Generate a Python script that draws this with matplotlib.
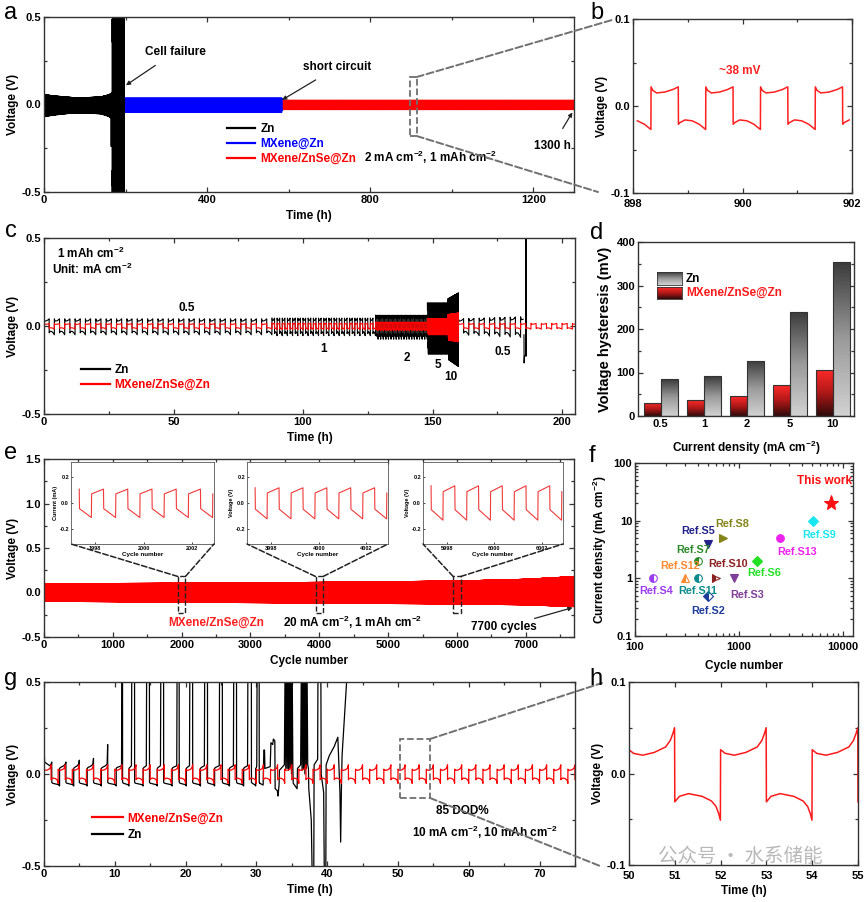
import numpy as np
import matplotlib
matplotlib.use("Agg")
import matplotlib.pyplot as plt
from matplotlib.lines import Line2D
from matplotlib.patches import Rectangle, ConnectionPatch
from matplotlib.colors import LinearSegmentedColormap
from matplotlib.ticker import MultipleLocator, FixedLocator, LogLocator, NullFormatter

plt.rcParams['font.family'] = ['Liberation Sans', 'DejaVu Sans']
plt.rcParams['font.weight'] = 'bold'
plt.rcParams['axes.labelweight'] = 'bold'
plt.rcParams['mathtext.fontset'] = 'custom'
plt.rcParams['mathtext.rm'] = 'Liberation Sans:bold'
plt.rcParams['mathtext.it'] = 'Liberation Sans:bold'
plt.rcParams['mathtext.bf'] = 'Liberation Sans:bold'
plt.rcParams['mathtext.default'] = 'bf'
plt.rcParams['axes.unicode_minus'] = False

# ======================= DATA =======================
# (b) one plating/stripping cycle of MXene/ZnSe@Zn, 2 mA cm-2 (phase in cycles, volt in V)
b_phase = [0.0, 0.03, 0.10, 0.25, 0.40, 0.497, 0.50, 0.53, 0.62, 0.75, 0.88, 0.997]
b_volt = [0.022, 0.018, 0.015, 0.016, 0.019, 0.022, -0.021, -0.019, -0.016, -0.017, -0.021, -0.027]
b_first_up = 898.33
b_period = 1.0

# (a) long-term cycling, 2 mA cm-2 / 1 mAh cm-2 (1 h per cycle)
a_zn_env_t = [0, 30, 70, 110, 140, 160, 167]
a_zn_env_amp = [0.07, 0.06, 0.05, 0.05, 0.055, 0.07, 0.085]
a_zn_fail_t = [167, 197]
a_zn_fail_amp = 0.6
a_zn_drop_t = [164.5, 164.8, 165.1]
a_zn_drop_v = [-0.05, -0.24, -0.05]
a_mx_end = 584
a_mx_amp = 0.045
a_mxzs_end = 1300
a_mxzs_amp = 0.030

# (c) rate performance, 1 mAh cm-2
c_rate = [0.5, 1, 2, 5, 10, 0.5]
c_t_start = [0, 88, 128, 148, 156, 160]
c_t_end = [88, 128, 148, 156, 160, 205]
c_zn_amp_start = [0.05, 0.055, 0.075, 0.16, 0.19, 0.05]
c_zn_amp_end = [0.05, 0.055, 0.075, 0.16, 0.23, 0.065]
c_zn_stop = 185.3
c_zn_fail_t = [185.3, 185.35, 185.5, 186.0, 186.05, 186.15, 186.2]
c_zn_fail_v = [-0.05, -0.21, -0.17, -0.17, 0.6, 0.6, -0.17]
c_mx_amp_start = [0.017, 0.02, 0.027, 0.05, 0.08, 0.018]
c_mx_amp_end = [0.017, 0.02, 0.027, 0.05, 0.09, 0.018]

# (d) voltage hysteresis
d_current = ['0.5', '1', '2', '5', '10']
d_zn = [84, 91, 127, 240, 355]
d_mxzs = [31, 36, 45, 71, 106]

# (e) 20 mA cm-2, 1 mAh cm-2
e_phase = [0.0, 0.49, 0.50, 0.99]
e_volt = [0.058, 0.088, -0.035, -0.090]
e_first_up = 0.85
e_cycles = 7700
e_env_x = [0, 2000, 4000, 6000, 7000, 7700]
e_env_top = [0.10, 0.105, 0.115, 0.13, 0.15, 0.18]
e_env_bot = [-0.10, -0.11, -0.12, -0.13, -0.14, -0.16]
e_inset_center = [2000, 4000, 6000]
e_inset_ticks = [[1998, 2000, 2002], [3998, 4000, 4002], [5998, 6000, 6002]]
e_inset_ylabel = ['Current (mA)', 'Voltage (V)', 'Voltage (V)']

# (f) comparison with literature
f_names = ['Ref.S4', 'Ref.S12', 'Ref.S11', 'Ref.S7', 'Ref.S5', 'Ref.S2', 'Ref.S10',
           'Ref.S8', 'Ref.S3', 'Ref.S6', 'Ref.S13', 'Ref.S9', 'This work']
f_cycles = [150, 300, 400, 400, 500, 500, 600, 700, 900, 1500, 2500, 5200, 7700]
f_current = [1, 1, 1, 2, 4, 0.5, 1, 5, 1, 2, 5, 10, 20]
f_colors = ['#9b3cf0', '#ff8a30', '#0a8a8a', '#2a8a2a', '#23238a', '#1e3c9a', '#8b2020',
            '#84841a', '#7f3f98', '#22e022', '#ee22ee', '#18e6f0', '#ff1010']
f_markers = ['o', '^', 'o', 'o', 'v', 'D', '>', '>', 'v', 'D', 'o', 'D', '*']
f_fill = ['left', 'left', 'left', 'left', 'full', 'left', 'left', 'full', 'full', 'full', 'full', 'full', 'full']
f_label_off = [(2, -9), (-3, 9), (0, -9), (-3, 8), (-7, 9), (0, -11), (9, 10),
               (7, 10), (9, -12), (5, -9), (12, -10), (4, -10), (-5, 16)]

# (g, h) 10 mA cm-2, 10 mAh cm-2, 85 % DOD: one cycle of MXene/ZnSe@Zn (phase in h, 2 h cycle)
gh_phase = [0.0, 0.1, 0.3, 0.55, 0.8, 0.9, 0.96, 0.995, 1.0, 1.1, 1.3, 1.6, 1.8, 1.9, 1.96, 1.995]
gh_volt = [0.026, 0.022, 0.020, 0.023, 0.029, 0.036, 0.044, 0.050,
           -0.031, -0.025, -0.022, -0.025, -0.030, -0.036, -0.044, -0.051]
gh_period = 2.0
# bare Zn in (g): start / end of each stripping half-cycle and its terminal voltage
zn_g_up = [0.0, 2.2, 4.2, 6.1, 8.1, 10.2, 12.0, 14.0, 16.0, 18.1, 20.1, 22.1, 24.1, 26.2, 28.2, 29.9]
zn_g_end = [1.1, 3.1, 5.0, 7.0, 9.0, 11.1, 12.8, 14.9, 16.9, 19.1, 21.0, 23.1, 25.2, 27.2, 29.3, 30.4]
zn_g_peak = [0.065, 0.065, 0.075, 0.085, 0.16, 0.6, 0.6, 0.6, 0.6, 0.6, 0.6, 0.6, 0.6, 0.6, 0.6, 0.6]
zn_g_spike_w = [0, 0, 0, 0, 0, 0.1, 0.4, 0.4, 0.4, 0.3, 0.4, 0.4, 0.4, 0.4, 0.5, 0.3]
zn_g_tail_t = [30.45, 30.95, 31.0, 31.05, 31.15, 31.2, 31.95, 32.05, 32.3, 32.4, 32.6, 32.65, 32.95,
               33.05, 33.2, 33.25, 33.95,
               34.05, 34.15, 34.25, 34.35, 34.45, 34.55, 34.65, 34.75, 34.85, 34.95, 35.05, 35.15,
               35.2, 35.75, 35.8, 36.25,
               36.35, 36.45, 36.55, 36.65, 36.75, 36.85, 36.95, 37.05, 37.15, 37.25,
               37.35, 37.4, 37.75, 37.9, 38.1, 38.15, 38.65, 38.7, 39.1, 39.15, 39.5, 39.6,
               39.8, 39.85, 40.3, 41.0, 41.5, 41.6, 41.8, 41.9, 42.0, 42.1, 42.5, 42.9]
zn_g_tail_v = [-0.05, -0.06, 0.02, 0.13, 0.13, 0.03, 0.04, 0.17, 0.16, 0.19, 0.18, -0.08, -0.09,
               -0.12, -0.06, 0.02, 0.05,
               0.6, 0.03, 0.6, 0.03, 0.6, 0.02, 0.6, 0.03, 0.6, 0.0, 0.6, 0.03,
               -0.05, -0.08, 0.03, 0.05,
               0.6, 0.02, 0.6, 0.03, 0.6, 0.0, 0.6, 0.03, 0.6, 0.05,
               0.03, -0.08, -0.25, -0.6, -0.6, 0.05, 0.08, 0.6, 0.6, 0.0, -0.1, -0.6,
               -0.6, 0.05, 0.1, 0.15, 0.2, 0.1, -0.1, -0.37, -0.1, 0.1, 0.35, 0.6]


# ======================= HELPERS =======================
def tile(phase, volt, t0, t1, period, first_up):
    """repeat one read-off cycle (phase given as fraction of the period)"""
    phase = np.asarray(phase, float)
    volt = np.asarray(volt, float)
    k0 = np.floor((t0 - first_up) / period) - 1
    k1 = np.ceil((t1 - first_up) / period) + 1
    ks = np.arange(k0, k1 + 1)
    t = first_up + (ks[:, None] + phase[None, :]) * period
    v = np.broadcast_to(volt, t.shape)
    t = t.ravel()
    v = v.ravel()
    m = (t >= t0) & (t <= t1)
    return t[m], v[m].copy()


b_norm = np.asarray(b_volt) / np.max(np.abs(b_volt))
gh_frac = np.asarray(gh_phase) / gh_period

W, H = 865, 902
fig = plt.figure(figsize=(W / 100, H / 100), dpi=100)


def add_ax(l, t, r, b):
    return fig.add_axes([l / W, 1 - b / H, (r - l) / W, (b - t) / H])


def style(ax):
    for s in ax.spines.values():
        s.set_linewidth(1.0)
        s.set_color('#333333')
    ax.tick_params(which='both', direction='in', top=True, right=True, labelsize=8,
                   width=0.9, color='#333333', pad=2)
    ax.tick_params(which='major', length=3.5)
    ax.tick_params(which='minor', length=2)


def fig_pt(x, y):
    return (x / W, 1 - y / H)


GREY = '#707070'
ARROW = dict(arrowstyle='-|>', color='#222222', lw=0.9, mutation_scale=6, shrinkB=0)

# ======================= (a) =======================
ax = add_ax(44, 17, 574, 192)
t, v = tile(b_phase, b_norm, 0, a_mxzs_end, b_period, 0.33)
ax.plot(t, v * a_mxzs_amp, color='#ff0000', lw=0.6)
t, v = tile(b_phase, b_norm, 0, a_mx_end, b_period, 0.33)
ax.plot(t, v * a_mx_amp, color='#0000ff', lw=0.6)
t, v = tile(b_phase, b_norm, 0, a_zn_fail_t[0], b_period, 0.33)
ax.plot(t, v * np.interp(t, a_zn_env_t, a_zn_env_amp), color='black', lw=0.6)
t, v = tile(b_phase, b_norm, a_zn_fail_t[0], a_zn_fail_t[1], b_period, 0.33)
ax.plot(t, v * a_zn_fail_amp, color='black', lw=0.8)
ax.plot(a_zn_drop_t, a_zn_drop_v, color='black', lw=0.8)
ax.set_xlim(0, 1300)
ax.set_ylim(-0.5, 0.5)
ax.xaxis.set_major_locator(MultipleLocator(400))
ax.xaxis.set_minor_locator(MultipleLocator(200))
ax.yaxis.set_major_locator(MultipleLocator(0.5))
ax.yaxis.set_minor_locator(MultipleLocator(0.25))
ax.yaxis.set_major_formatter(lambda x, p: f'{x:.1f}')
style(ax)
ax.set_xlabel('Time (h)', fontsize=8.5, labelpad=4)
ax.set_ylabel('Voltage (V)', fontsize=8.5, labelpad=2)
hs = [Line2D([], [], color='black', lw=1.6), Line2D([], [], color='#0000ff', lw=1.6),
      Line2D([], [], color='#ff0000', lw=1.6)]
leg = ax.legend(hs, ['Zn', 'MXene@Zn', 'MXene/ZnSe@Zn'], loc='upper left',
                bbox_to_anchor=(0.33, 0.44), frameon=False, fontsize=8.5, handlelength=2.4,
                handletextpad=0.4, labelspacing=0.25, borderpad=0.2)
for txt, c in zip(leg.get_texts(), ['black', '#0000ff', '#ff0000']):
    txt.set_color(c)
ax.text(947, -0.30, '2 mA cm$^{-2}$, 1 mAh cm$^{-2}$', fontsize=8.5, ha='center', va='center')
ax.annotate('Cell failure', xy=(201, 0.11), xytext=(322, 0.30), fontsize=8.5, ha='center', va='center',
            arrowprops=dict(ARROW, shrinkA=6))
ax.annotate('short circuit', xy=(584, 0.026), xytext=(720, 0.215), fontsize=8.5, ha='center', va='center',
            arrowprops=dict(ARROW, shrinkA=6))
ax.annotate('1300 h', xy=(1296, -0.045), xytext=(1247, -0.235), fontsize=8.5, ha='center', va='center',
            arrowprops=dict(ARROW, shrinkA=7))
ax.add_patch(Rectangle((898, -0.18), 16, 0.337, fill=False, ls='--', ec=GREY, lw=1.3, zorder=5))
ax_a = ax

# ======================= (b) =======================
ax = add_ax(633, 19, 852, 193)
t, v = tile(b_phase, b_volt, 898, 902, b_period, b_first_up)
ax.plot(t, v, color='#ff2020', lw=1.1)
ax.set_xlim(898, 902)
ax.set_ylim(-0.1, 0.1)
ax.xaxis.set_major_locator(MultipleLocator(2))
ax.xaxis.set_minor_locator(MultipleLocator(1))
ax.yaxis.set_major_locator(MultipleLocator(0.1))
ax.yaxis.set_minor_locator(MultipleLocator(0.05))
ax.yaxis.set_major_formatter(lambda x, p: f'{x:.1f}')
style(ax)
ax.tick_params(axis='x', pad=4)
ax.set_ylabel('Voltage (V)', fontsize=8.5, labelpad=2)
ax.text(899.95, 0.04, '~38 mV', color='#ff2020', fontsize=8.5, ha='center', va='center')
for ya, xb, yb in [(0.157, 612, 20), (-0.18, 598, 192)]:
    cp = ConnectionPatch(xyA=(914, ya), coordsA=ax_a.transData, xyB=fig_pt(xb, yb),
                         coordsB='figure fraction', ls='--', color=GREY, lw=1.4)
    fig.add_artist(cp)

# ======================= (c) =======================
ax = add_ax(44, 238, 575, 414)
for i in range(len(c_rate)):
    per = 2.0 / c_rate[i]
    t0, t1 = c_t_start[i], c_t_end[i]
    tz1 = min(t1, c_zn_stop)
    t, v = tile(b_phase, b_norm, t0, tz1, per, t0)
    amp = np.interp(t, [t0, tz1], [c_zn_amp_start[i], c_zn_amp_end[i]])
    ax.plot(t, v * amp, color='black', lw=0.8)
ax.plot(c_zn_fail_t, c_zn_fail_v, color='black', lw=0.8)
for i in range(len(c_rate)):
    per = 2.0 / c_rate[i]
    t0, t1 = c_t_start[i], c_t_end[i]
    t, v = tile(b_phase, b_norm, t0, t1, per, t0)
    amp = np.interp(t, [t0, t1], [c_mx_amp_start[i], c_mx_amp_end[i]])
    ax.plot(t, v * amp, color='#ff0000', lw=0.8)
ax.set_xlim(0, 205)
ax.set_ylim(-0.5, 0.5)
ax.xaxis.set_major_locator(MultipleLocator(50))
ax.xaxis.set_minor_locator(MultipleLocator(25))
ax.yaxis.set_major_locator(MultipleLocator(0.5))
ax.yaxis.set_minor_locator(MultipleLocator(0.25))
ax.yaxis.set_major_formatter(lambda x, p: f'{x:.1f}')
style(ax)
ax.set_xlabel('Time (h)', fontsize=8.5, labelpad=4)
ax.set_ylabel('Voltage (V)', fontsize=8.5, labelpad=2)
ax.text(5, 0.41, '1 mAh cm$^{-2}$', fontsize=8.5, ha='left', va='center')
ax.text(3, 0.32, 'Unit: mA cm$^{-2}$', fontsize=8.5, ha='left', va='center')
for s, x, y in [('0.5', 55, 0.10), ('1', 108, -0.13), ('2', 140, -0.18), ('5', 152, -0.22),
                ('10', 157, -0.29), ('0.5', 177, -0.15)]:
    ax.text(x, y, s, fontsize=8.5, ha='center', va='center')
hs = [Line2D([], [], color='black', lw=1.6), Line2D([], [], color='#ff0000', lw=1.6)]
leg = ax.legend(hs, ['Zn', 'MXene/ZnSe@Zn'], loc='upper left', bbox_to_anchor=(0.055, 0.33),
                frameon=False, fontsize=8.5, handlelength=2.4, handletextpad=0.4,
                labelspacing=0.25, borderpad=0.2)
for txt, c in zip(leg.get_texts(), ['black', '#ff0000']):
    txt.set_color(c)

# ======================= (d) =======================
ax = add_ax(638, 242, 854, 416)
x = np.arange(len(d_current))
bw = 0.39
cm_zn = LinearSegmentedColormap.from_list('zn', ['#d2d2d2', '#9a9a9a', '#3a3a3a'])
cm_mx = LinearSegmentedColormap.from_list('mx', ['#2e0a0a', '#b01818', '#ff2a2a'])
bars_mx = ax.bar(x - bw / 2, d_mxzs, bw, facecolor='none', edgecolor='#333333', lw=0.8, zorder=3)
bars_zn = ax.bar(x + bw / 2, d_zn, bw, facecolor='none', edgecolor='#333333', lw=0.8, zorder=3)
grad = np.linspace(0, 1, 256).reshape(-1, 1)
for bars, cm in [(bars_mx, cm_mx), (bars_zn, cm_zn)]:
    for p in bars:
        x0, y0 = p.get_x(), p.get_y()
        im = ax.imshow(grad, extent=[x0, x0 + p.get_width(), y0, y0 + p.get_height()],
                       origin='lower', cmap=cm, aspect='auto', zorder=2)
        im.set_clip_path(p)
ax.set_xlim(-0.53, 4.49)
ax.set_ylim(0, 400)
ax.set_xticks(x)
ax.set_xticklabels(d_current)
ax.yaxis.set_major_locator(MultipleLocator(100))
ax.yaxis.set_minor_locator(MultipleLocator(50))
style(ax)
ax.tick_params(axis='x', which='both', top=False, bottom=False)
ax.set_xlabel('Current density (mA cm$^{-2}$)', fontsize=8.5, labelpad=7)
ax.set_ylabel('Voltage hysteresis (mV)', fontsize=10.5, labelpad=3)
for (l, t_, r, b_), cm in [((657, 272, 682, 285), cm_zn), ((657, 287, 682, 299), cm_mx)]:
    lax = add_ax(l, t_, r, b_)
    lax.imshow(grad, cmap=cm, aspect='auto', origin='lower')
    lax.set_xticks([])
    lax.set_yticks([])
    for s in lax.spines.values():
        s.set_linewidth(0.6)
        s.set_color('#333333')
fig.text(686 / W, 1 - 279 / H, 'Zn', fontsize=8.5, va='center', ha='left')
fig.text(686 / W, 1 - 293 / H, 'MXene/ZnSe@Zn', fontsize=8.5, va='center', ha='left', color='#ff1a1a')

# ======================= (e) =======================
ax = add_ax(44, 459, 574, 637)
t, v = tile(e_phase, e_volt, 0, e_cycles, 1.0, e_first_up)
top = np.interp(t, e_env_x, e_env_top) / max(e_volt)
bot = np.interp(t, e_env_x, e_env_bot) / min(e_volt)
v = np.where(v > 0, v * top, v * bot)
ax.plot(t, v, color='#ff0000', lw=0.6)
ax.set_xlim(0, 7700)
ax.set_ylim(-0.5, 1.5)
ax.xaxis.set_major_locator(MultipleLocator(1000))
ax.xaxis.set_minor_locator(MultipleLocator(500))
ax.yaxis.set_major_locator(MultipleLocator(0.5))
ax.yaxis.set_minor_locator(MultipleLocator(0.25))
ax.yaxis.set_major_formatter(lambda x, p: f'{x:.1f}')
style(ax)
ax.set_xlabel('Cycle number', fontsize=8.5, labelpad=4)
ax.set_ylabel('Voltage (V)', fontsize=8.5, labelpad=2)
ax.text(2500, -0.34, 'MXene/ZnSe@Zn', color='#ff2020', fontsize=8.5, ha='center', va='center')
ax.text(4490, -0.34, '20 mA cm$^{-2}$, 1 mAh cm$^{-2}$', fontsize=8.5, ha='center', va='center')
ax.annotate('7700 cycles', xy=(7680, -0.17), xytext=(6680, -0.39), fontsize=8.5, ha='center', va='center',
            arrowprops=dict(ARROW, shrinkA=30))
ax_e = ax
inset_px = [(71, 462, 214, 544), (247, 462, 388, 544), (423, 462, 563, 544)]
for i, cen in enumerate(e_inset_center):
    ax_e.add_patch(Rectangle((cen - 55, -0.23), 110, 0.41, fill=False, ls='--', ec='#222222',
                             lw=1.0, zorder=5))
    l, t_, r, b_ = inset_px[i]
    iax = add_ax(l, t_, r, b_)
    t, v = tile(e_phase, e_volt, cen - 3.0, cen + 2.9, 1.0, e_first_up)
    tp = np.interp(cen, e_env_x, e_env_top) / max(e_volt)
    bt = np.interp(cen, e_env_x, e_env_bot) / min(e_volt)
    v = np.where(v > 0, v * tp, v * bt)
    iax.plot(t, v, color='#f03a3a', lw=0.8)
    iax.set_xlim(cen - 3.0, cen + 2.9)
    iax.set_ylim(-0.31, 0.31)
    iax.set_xticks(e_inset_ticks[i])
    iax.set_yticks([-0.2, 0.0, 0.2])
    iax.yaxis.set_major_formatter(lambda x, p: f'{x:.1f}')
    for s in iax.spines.values():
        s.set_linewidth(0.6)
        s.set_color('#555555')
    iax.tick_params(direction='in', labelsize=4, length=1.5, width=0.5, pad=1.5)
    iax.set_xlabel('Cycle number', fontsize=4.5, labelpad=1)
    iax.set_ylabel(e_inset_ylabel[i], fontsize=4, labelpad=1)
    for xa, xb in [(cen - 55, l), (cen + 55, r)]:
        cp = ConnectionPatch(xyA=(xa, 0.18), coordsA=ax_e.transData, xyB=fig_pt(xb, b_),
                             coordsB='figure fraction', ls='--', color='#222222', lw=1.1)
        fig.add_artist(cp)

# ======================= (f) =======================
ax = add_ax(635, 463, 853, 636)
for i in range(len(f_names)):
    ms = 11 if f_markers[i] == '*' else 5.5
    ax.plot(f_cycles[i], f_current[i], marker=f_markers[i], color=f_colors[i], ms=ms,
            fillstyle=f_fill[i], markerfacecoloralt='white', mec=f_colors[i], mew=0.8, ls='none')
    fs = 8.5 if f_names[i] == 'This work' else 7.8
    ax.annotate(f_names[i], (f_cycles[i], f_current[i]), xytext=f_label_off[i], textcoords='offset points',
                ha='center', va='center', fontsize=fs, color=f_colors[i])
ax.set_xscale('log')
ax.set_yscale('log')
ax.set_xlim(100, 12500)
ax.set_ylim(0.1, 100)
ax.xaxis.set_major_locator(FixedLocator([100, 1000, 10000]))
ax.set_xticklabels(['100', '1000', '10000'])
ax.yaxis.set_major_locator(FixedLocator([0.1, 1, 10, 100]))
ax.set_yticklabels(['0.1', '1', '10', '100'])
ax.xaxis.set_minor_locator(LogLocator(subs=np.arange(2, 10)))
ax.yaxis.set_minor_locator(LogLocator(subs=np.arange(2, 10)))
ax.xaxis.set_minor_formatter(NullFormatter())
ax.yaxis.set_minor_formatter(NullFormatter())
style(ax)
ax.tick_params(axis='x', pad=4)
ax.set_xlabel('Cycle number', fontsize=8.5, labelpad=6)
ax.set_ylabel('Current density (mA cm$^{-2}$)', fontsize=8.5, labelpad=3)

# ======================= (g) =======================
ax = add_ax(44, 682, 575, 866)
pts_t, pts_v = [0.0, 0.08], [0.17, 0.065]
n = len(zn_g_up)
for k in range(n):
    up, end, pk, w = zn_g_up[k], zn_g_end[k], zn_g_peak[k], zn_g_spike_w[k]
    if k > 0:
        pts_t += [up, up, up + 0.1]
        pts_v += [-0.065, 0.03, 0.035]
    if pk < 0.5:
        pts_t += [end - 0.3, end - 0.08, end - 0.01]
        pts_v += [0.045, 0.055, pk]
    else:
        pts_t += [end - w - 0.05, end - w, end - 0.01]
        pts_v += [0.045, 0.6, 0.6]
    pts_t += [end, end + 0.1]
    pts_v += [-0.045, -0.05]
    if k + 1 < n:
        pts_t += [zn_g_up[k + 1] - 0.15]
        pts_v += [-0.058]
pts_t += zn_g_tail_t
pts_v += zn_g_tail_v
ax.plot(pts_t, pts_v, color='black', lw=0.9)
t, v = tile(gh_frac, gh_volt, 0, 75, gh_period, 0.0)
ax.plot(t, v, color='#ff0000', lw=0.9)
ax.set_xlim(0, 75)
ax.set_ylim(-0.5, 0.5)
ax.xaxis.set_major_locator(MultipleLocator(10))
ax.xaxis.set_minor_locator(MultipleLocator(5))
ax.yaxis.set_major_locator(MultipleLocator(0.5))
ax.yaxis.set_minor_locator(MultipleLocator(0.25))
ax.yaxis.set_major_formatter(lambda x, p: f'{x:.1f}')
style(ax)
ax.set_xlabel('Time (h)', fontsize=8.5, labelpad=4)
ax.set_ylabel('Voltage (V)', fontsize=8.5, labelpad=2)
hs = [Line2D([], [], color='#ff0000', lw=1.6), Line2D([], [], color='black', lw=1.6)]
leg = ax.legend(hs, ['MXene/ZnSe@Zn', 'Zn'], loc='upper left', bbox_to_anchor=(0.075, 0.335),
                frameon=False, fontsize=8.5, handlelength=2.6, handletextpad=0.4,
                labelspacing=0.35, borderpad=0.2)
for txt, c in zip(leg.get_texts(), ['#ff0000', 'black']):
    txt.set_color(c)
ax.text(59.1, -0.2, '85 DOD%', fontsize=8.5, ha='center', va='center')
ax.text(62.3, -0.32, '10 mA cm$^{-2}$, 10 mAh cm$^{-2}$', fontsize=8.5, ha='center', va='center')
ax.add_patch(Rectangle((50.3, -0.13), 4.2, 0.32, fill=False, ls='--', ec=GREY, lw=1.3, zorder=5))
ax_g = ax

# ======================= (h) =======================
ax = add_ax(629, 682, 858, 865)
t, v = tile(gh_frac, gh_volt, 50, 55, gh_period, 50.0)
t = np.concatenate([[50.0], t])
v = np.concatenate([[-0.051], v])
ax.plot(t, v, color='#ff1a1a', lw=1.1)
ax.set_xlim(50, 55)
ax.set_ylim(-0.1, 0.1)
ax.xaxis.set_major_locator(MultipleLocator(1))
ax.yaxis.set_major_locator(MultipleLocator(0.1))
ax.yaxis.set_minor_locator(MultipleLocator(0.05))
ax.yaxis.set_major_formatter(lambda x, p: f'{x:.1f}')
style(ax)
ax.tick_params(axis='x', pad=4)
ax.set_xlabel('Time (h)', fontsize=8.5, labelpad=3)
ax.set_ylabel('Voltage (V)', fontsize=8.5, labelpad=2)
for ya, xb, yb in [(0.19, 602, 683), (-0.13, 600, 866)]:
    cp = ConnectionPatch(xyA=(54.5, ya), coordsA=ax_g.transData, xyB=fig_pt(xb, yb),
                         coordsB='figure fraction', ls='--', color=GREY, lw=1.4)
    fig.add_artist(cp)

# ======================= panel letters & watermark =======================
for s, x_, y_ in [('a', 11, 13), ('b', 597, 13), ('c', 11, 231), ('d', 597, 233),
                  ('e', 11, 453), ('f', 592, 456), ('g', 11, 679), ('h', 596, 679)]:
    fig.text(x_ / W, 1 - y_ / H, s, fontsize=17, fontweight='normal', ha='center', va='center')
fig.text(740 / W, 1 - 856 / H, '公众号 · 水系储能', family=['Noto Sans CJK SC'], fontsize=14,
         fontweight='normal', color='#9a9a9a', alpha=0.7, ha='center', va='center')

fig.savefig('out.png', dpi=100)
